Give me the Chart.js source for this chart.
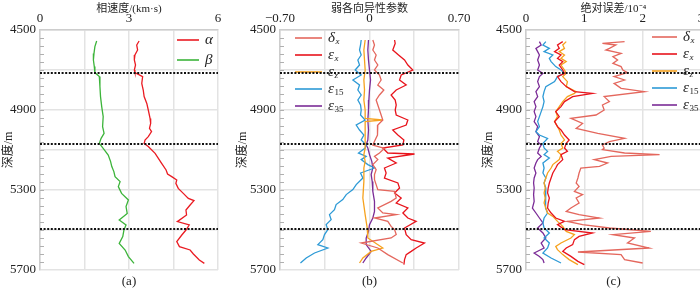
<!DOCTYPE html>
<html><head><meta charset="utf-8">
<script src="https://cdn.jsdelivr.net/npm/chart.js@4.4.1/dist/chart.umd.min.js"></script>
<style>
html,body{margin:0;padding:0;width:700px;height:288px;overflow:hidden;background:#fff;}
#wrap{position:relative;width:700px;height:288px;overflow:hidden;}
canvas{position:absolute;top:0;}
</style></head><body>
<div id="wrap">
<canvas id="ca" width="232" height="288" style="left:0px"></canvas>
<canvas id="cb" width="238" height="288" style="left:234px"></canvas>
<canvas id="cc" width="233" height="288" style="left:480px"></canvas>
</div>
<script>
// ---------- DATA ----------
const depthRange = [4500, 5700];
const depthTicks = [4500, 4900, 5300, 5700];
const boundaries = [4715, 5070, 5495];
const minorStep = 40;

// (a) phase velocity, km/s
const alphaDepth = [4555,4575,4600,4625,4650,4675,4700,4713,4733,4767,4800,4833,4867,4900,4942,4967,4992,5008,5033,5050,5067,5083,5117,5142,5167,5200,5220,5233,5250,5267,5292,5317,5342,5353,5375,5400,5425,5458,5475,5500,5525,5558,5583,5600,5620,5650,5667];
const alphaVel   = [3.34,3.26,3.29,3.20,3.18,3.22,3.18,3.20,3.46,3.43,3.48,3.51,3.60,3.65,3.71,3.73,3.69,3.76,3.65,3.54,3.51,3.65,3.88,3.99,4.10,4.25,4.30,4.44,4.61,4.58,4.66,4.83,5.00,5.19,5.06,4.92,4.94,4.63,5.03,4.92,4.78,4.61,4.70,5.06,5.17,5.37,5.54];
const betaDepth  = [4555,4583,4617,4650,4683,4713,4733,4783,4833,4883,4933,4983,5017,5042,5067,5092,5125,5158,5183,5208,5233,5258,5283,5317,5350,5383,5417,5450,5475,5500,5533,5567,5600,5633,5667];
const betaVel    = [1.91,1.85,1.82,1.80,1.83,1.85,2.00,2.02,2.04,2.08,2.13,2.11,2.16,2.06,2.00,2.13,2.30,2.38,2.42,2.49,2.53,2.70,2.64,2.75,2.98,2.90,2.94,2.67,2.90,2.83,2.79,2.67,2.87,2.98,3.17];

// (b) weak anisotropy parameters
const bDeltaDepth = [4550,4575,4600,4625,4650,4675,4700,4725,4750,4775,4800,4825,4850,4875,4900,4925,4950,4975,5000,5025,5050,5075,5092,5115,5132,5148,5173,5198,5223,5248,5273,5298,5307,5340,5357,5390,5415,5423,5440,5457,5482,5498,5523,5540,5565,5590,5623,5665];
const bDelta      = [0.026,0.039,0.026,0.052,0.039,0.065,0.039,0.078,0.091,0.065,0.112,0.078,0.052,0.065,0.078,0.091,0.104,0.065,0.060,0.065,0.044,0.026,0.117,0.078,0.039,0.065,0.026,0.052,0.039,0.039,0.052,0.065,0.196,0.209,0.169,0.065,0.104,0.209,0.039,0.143,0.169,0.196,0.209,0.169,-0.065,0.065,0.143,0.261];
const bExDepth = [4550,4567,4600,4625,4650,4675,4700,4725,4750,4775,4800,4825,4850,4875,4900,4925,4950,4975,5000,5025,5050,5075,5090,5115,5120,5140,5165,5190,5215,5240,5265,5290,5315,5340,5365,5390,5415,5440,5457,5490,5523,5548,5565,5590,5607,5623,5648,5673];
const bEx      = [0.196,0.201,0.182,0.227,0.274,0.300,0.339,0.248,0.235,0.287,0.209,0.169,0.201,0.209,0.201,0.209,0.300,0.287,0.182,0.222,0.269,0.261,0.104,0.143,0.352,0.143,0.209,0.117,0.130,0.117,0.222,0.235,0.196,0.248,0.209,0.300,0.261,0.300,0.365,0.274,0.287,0.326,0.430,0.365,0.326,0.287,0.274,0.269];
const bEzDepth = [4550,4600,4650,4700,4750,4800,4850,4900,4942,4950,4958,5000,5067,5090,5123,5157,5190,5257,5340,5423,5490,5540,5590,5607,5640,5665];
const bEz      = [-0.034,-0.044,-0.039,-0.034,-0.044,-0.039,-0.044,-0.034,-0.034,0.104,-0.034,-0.034,-0.034,-0.034,-0.044,-0.034,-0.044,-0.044,-0.052,-0.034,-0.018,-0.013,0.104,0.013,-0.052,-0.078];
const bE15Depth = [4550,4575,4600,4625,4650,4675,4700,4725,4750,4775,4800,4825,4850,4875,4900,4925,4950,4975,5000,5025,5050,5075,5090,5115,5132,5148,5173,5190,5215,5240,5273,5298,5323,5348,5373,5398,5423,5448,5473,5498,5523,5548,5573,5590,5615,5640,5665];
const bE15      = [-0.065,-0.070,-0.078,-0.065,-0.091,-0.078,-0.112,-0.065,-0.130,-0.078,-0.091,-0.065,-0.091,-0.070,-0.065,-0.070,-0.034,-0.104,-0.078,-0.044,-0.065,-0.026,-0.034,-0.086,-0.026,-0.065,-0.013,0.039,-0.070,-0.052,-0.104,-0.130,-0.182,-0.209,-0.261,-0.274,-0.313,-0.300,-0.339,-0.326,-0.352,-0.365,-0.404,-0.326,-0.430,-0.495,-0.540];
const bE35Depth = [4550,4600,4650,4700,4750,4800,4850,4900,4950,5000,5050,5075,5090,5123,5157,5190,5223,5257,5307,5357,5407,5440,5473,5507,5540,5573,5607,5640,5665];
const bE35      = [-0.008,-0.013,-0.008,0,0.008,0,-0.005,-0.008,-0.013,-0.008,-0.013,-0.026,-0.013,0,0.018,0.026,0.013,0.021,0.026,0.039,0.039,0.026,0,-0.008,-0.026,-0.026,0.013,-0.026,-0.052];

// (c) absolute error, 1e-4
const cDeltaDepth = [4558,4567,4575,4592,4600,4617,4633,4650,4667,4683,4700,4713,4733,4750,4767,4792,4808,4833,4858,4875,4900,4925,4942,4967,4992,5017,5042,5058,5075,5090,5098,5115,5123,5132,5148,5165,5182,5190,5215,5240,5265,5282,5307,5323,5340,5365,5390,5407,5423,5440,5457,5473,5490,5507,5523,5540,5565,5590,5610,5623,5648,5665];
const cDelta      = [1.69,1.31,1.54,1.43,1.37,1.63,1.49,1.57,1.49,1.63,1.66,1.74,1.51,1.69,1.51,1.63,2.03,1.34,1.43,1.31,1.34,1.20,0.77,0.97,0.86,1.23,1.69,1.43,1.31,1.34,1.31,1.69,2.29,1.46,1.17,1.40,1.26,0.94,0.91,0.89,0.86,0.91,0.83,0.97,0.86,0.91,0.77,0.69,0.91,1.26,0.71,0.97,1.43,2.14,1.49,1.86,1.74,2.11,0.89,1.63,1.69,2.00];
const cExDepth = [4558,4575,4592,4608,4625,4642,4658,4675,4700,4717,4733,4758,4783,4808,4817,4833,4858,4883,4908,4933,4958,4983,5000,5025,5050,5067,5090,5107,5123,5148,5173,5190,5215,5240,5265,5290,5315,5340,5365,5390,5415,5440,5457,5473,5498,5515,5532,5548,5573,5590,5607,5632,5657,5673];
const cEx      = [0.63,0.54,0.57,0.49,0.60,0.54,0.63,0.57,0.63,0.66,0.54,0.60,0.69,0.83,1.14,0.80,0.66,0.60,0.51,0.57,0.49,0.54,0.60,0.66,0.74,0.69,0.66,0.71,0.60,0.63,0.54,0.51,0.46,0.43,0.40,0.38,0.37,0.40,0.38,0.37,0.43,0.51,0.66,0.54,0.66,1.14,0.91,0.83,0.80,0.69,0.63,0.77,0.89,1.00];
const cEzDepth = [4558,4575,4592,4608,4625,4642,4658,4675,4700,4717,4733,4758,4783,4808,4817,4833,4858,4883,4908,4933,4958,4983,5000,5025,5050,5067,5090,5107,5123,5148,5173,5190,5215,5240,5265,5290,5315,5340,5365,5390,5415,5432,5457,5482,5507,5523,5540,5565,5582,5598,5623,5648,5673];
const cEz      = [0.69,0.63,0.66,0.57,0.66,0.60,0.69,0.60,0.66,0.69,0.63,0.71,0.69,0.86,0.83,0.71,0.63,0.57,0.51,0.54,0.49,0.54,0.57,0.60,0.66,0.60,0.63,0.54,0.60,0.57,0.46,0.43,0.37,0.34,0.31,0.33,0.31,0.33,0.31,0.34,0.37,0.46,0.54,0.63,0.69,0.83,0.77,0.60,0.51,0.54,0.63,0.74,0.89];
const cE15Depth = [4558,4575,4592,4608,4625,4642,4658,4683,4700,4717,4733,4758,4783,4808,4833,4858,4883,4908,4933,4958,4983,5008,5025,5042,5067,5090,5107,5123,5140,5165,5190,5215,5240,5265,5290,5315,5340,5365,5390,5415,5440,5465,5490,5515,5540,5565,5590,5615,5640,5665];
const cE15      = [0.34,0.29,0.40,0.31,0.46,0.40,0.43,0.51,0.60,0.66,0.54,0.49,0.34,0.31,0.29,0.31,0.29,0.26,0.23,0.20,0.23,0.17,0.23,0.37,0.29,0.31,0.37,0.31,0.40,0.29,0.31,0.29,0.34,0.31,0.34,0.33,0.34,0.33,0.34,0.37,0.31,0.29,0.31,0.40,0.31,0.40,0.37,0.29,0.43,0.60];
const cE35Depth = [4558,4575,4592,4608,4625,4650,4675,4700,4717,4733,4758,4783,4808,4833,4858,4883,4908,4933,4958,4983,5008,5033,5058,5075,5090,5115,5132,5148,5165,5190,5215,5240,5265,5290,5323,5357,5390,5415,5440,5465,5490,5515,5540,5565,5590,5615,5632,5648,5665];
const cE35      = [0.23,0.26,0.17,0.20,0.23,0.20,0.23,0.20,0.29,0.23,0.20,0.23,0.17,0.20,0.14,0.17,0.14,0.17,0.14,0.20,0.17,0.23,0.20,0.26,0.23,0.20,0.26,0.20,0.17,0.14,0.17,0.14,0.13,0.14,0.13,0.14,0.11,0.17,0.23,0.29,0.20,0.29,0.34,0.26,0.31,0.14,0.23,0.29,0.31];

// ---------- STYLE ----------
const FONT = '"Liberation Serif", "Noto Sans CJK SC", serif';
const C = {alpha:'#ea1b22', beta:'#3cb43a', delta:'#e4675d', ex:'#e8141c', ez:'#f6a21e', e15:'#2d9ad6', e35:'#7b2c97'};
const GRID = '#e3e3e3', BORDER = '#cdcdcd';

function pts(d, v){ return d.map((y,i)=>({x:v[i], y:y})); }
function ds(label, d, v, color){
  return {label, data:pts(d,v), borderColor:color, backgroundColor:color, borderWidth:1.3,
          showLine:true, pointRadius:0, pointHoverRadius:0, tension:0, fill:false};
}

function makeExtras(p){
  return {
    id:'extras',
    beforeDatasetsDraw(chart){
      const {ctx, chartArea:a, scales:{y}} = chart;
      ctx.save(); ctx.strokeStyle='#b0b0b0'; ctx.lineWidth=1;
      for(let d=depthRange[0]+minorStep; d<depthRange[1]; d+=minorStep){
        const py = Math.round(y.getPixelForValue(d))+0.5;
        ctx.beginPath(); ctx.moveTo(a.left, py); ctx.lineTo(a.left+4, py); ctx.stroke();
      }
      ctx.restore();
    },
    afterDatasetsDraw(chart){
      const {ctx, chartArea:a, scales:{y}} = chart;
      ctx.save();
      // legend
      p.legend.forEach((e,i)=>{
        const ly = a.top + p.legY + p.legDy*i;
        const x1 = p.legFromRight ? a.right - p.legX1 : a.left + p.legX1;
        const x2 = x1 + p.legLen;
        ctx.strokeStyle = e.color; ctx.lineWidth = 1.6; ctx.setLineDash([]);
        ctx.beginPath(); ctx.moveTo(x1, ly); ctx.lineTo(x2, ly); ctx.stroke();
        ctx.fillStyle = '#222'; ctx.textBaseline='middle'; ctx.textAlign='left';
        ctx.font = 'italic 15px ' + FONT;
        ctx.fillText(e.main, x2+6, ly);
        if(e.sub){
          const w = ctx.measureText(e.main).width;
          ctx.font = (e.subItalic?'italic ':'') + '9px ' + FONT;
          ctx.fillText(e.sub, x2+6+w+0.5, ly+4);
        }
      });
      // boundaries
      ctx.strokeStyle = '#111'; ctx.lineWidth = 2; ctx.setLineDash([2,1.6]);
      boundaries.forEach(b=>{
        const py = y.getPixelForValue(b);
        ctx.beginPath(); ctx.moveTo(a.left, py); ctx.lineTo(a.right, py); ctx.stroke();
      });
      ctx.setLineDash([]);
      // panel label
      ctx.fillStyle='#222'; ctx.font='13px '+FONT; ctx.textAlign='center'; ctx.textBaseline='middle';
      ctx.fillText(p.panel, (a.left+a.right)/2, a.bottom+12);
      ctx.restore();
    }
  };
}

function build(id, p){
  return new Chart(document.getElementById(id), {
    type:'scatter',
    data:{datasets:p.datasets},
    options:{
      responsive:false, animation:false, events:[],
      layout:{padding:{left:0, right:p.padRight, top:0, bottom:18}},
      plugins:{legend:{display:false}, tooltip:{enabled:false}},
      scales:{
        x:{type:'linear', position:'top', min:p.xMin, max:p.xMax,
          ticks:{stepSize:p.xStep, autoSkip:false, maxRotation:0, padding:4, color:'#222',
                 font:{family:FONT, size:13}, callback:p.xLabel},
          grid:{color:GRID, lineWidth:1.5, drawTicks:false},
          border:{display:true, color:BORDER, width:1.5},
          title:{display:true, text:p.xTitle, color:'#222', font:{family:FONT, size:11}, padding:{top:3,bottom:0}},
          afterFit(s){ s.height=30; s.paddingLeft=0; s.paddingRight=0; }
        },
        y:{type:'linear', reverse:true, min:depthRange[0], max:depthRange[1],
          ticks:{stepSize:200, autoSkip:false, padding:4, color:'#222', font:{family:FONT, size:13},
                 callback:v=> depthTicks.includes(v) ? String(v) : ''},
          grid:{color:GRID, lineWidth:1.5, drawTicks:false},
          border:{display:true, color:BORDER, width:1.5},
          title:{display:true, text:'深度/m', color:'#222', font:{family:FONT, size:12}, padding:{top:2,bottom:0}},
          afterFit(s){ s.width=p.yWidth; s.paddingTop=0; s.paddingBottom=0; }
        }
      }
    },
    plugins:[makeExtras(p)]
  });
}

const near = (a,b)=>Math.abs(a-b)<1e-6;

build('ca', {
  datasets:[ds('α', alphaDepth, alphaVel, C.alpha), ds('β', betaDepth, betaVel, C.beta)],
  xMin:0, xMax:6, xStep:1.5, xTitle:'相速度/(km·s)', yWidth:40, padRight:14, panel:'(a)',
  xLabel:v=> (near(v,0)||near(v,3)||near(v,6)) ? String(Math.round(v)) : '',
  legend:[{main:'α', color:C.alpha}, {main:'β', color:C.beta}],
  legFromRight:true, legX1:41, legLen:22, legY:10, legDy:20
});

build('cb', {
  datasets:[ds('δx', bDeltaDepth, bDelta, C.delta), ds('εx', bExDepth, bEx, C.ex), ds('εz', bEzDepth, bEz, C.ez),
            ds('ε15', bE15Depth, bE15, C.e15), ds('ε35', bE35Depth, bE35, C.e35)],
  xMin:-0.7, xMax:0.7, xStep:0.35, xTitle:'弱各向异性参数', yWidth:46, padRight:13, panel:'(b)',
  xLabel:v=> near(v,0) ? '0' : near(v,-0.7) ? '−0.70' : near(v,0.7) ? '0.70' : '',
  legend:[{main:'δ',sub:'x',subItalic:true,color:C.delta},{main:'ε',sub:'x',subItalic:true,color:C.ex},
          {main:'ε',sub:'z',subItalic:true,color:C.ez},{main:'ε',sub:'15',color:C.e15},{main:'ε',sub:'35',color:C.e35}],
  legFromRight:false, legX1:15, legLen:27, legY:8, legDy:17
});

build('cc', {
  datasets:[ds('δx', cDeltaDepth, cDelta, C.delta), ds('εx', cExDepth, cEx, C.ex), ds('εz', cEzDepth, cEz, C.ez),
            ds('ε15', cE15Depth, cE15, C.e15), ds('ε35', cE35Depth, cE35, C.e35)],
  xMin:0, xMax:3, xStep:1, xTitle:'绝对误差/10⁻⁴', yWidth:46, padRight:12, panel:'(c)',
  xLabel:v=> String(Math.round(v)),
  legend:[{main:'δ',sub:'x',subItalic:true,color:C.delta},{main:'ε',sub:'x',subItalic:true,color:C.ex},
          {main:'ε',sub:'z',subItalic:true,color:C.ez},{main:'ε',sub:'15',color:C.e15},{main:'ε',sub:'35',color:C.e35}],
  legFromRight:true, legX1:49, legLen:25, legY:7, legDy:17
});
</script>
</body></html>
